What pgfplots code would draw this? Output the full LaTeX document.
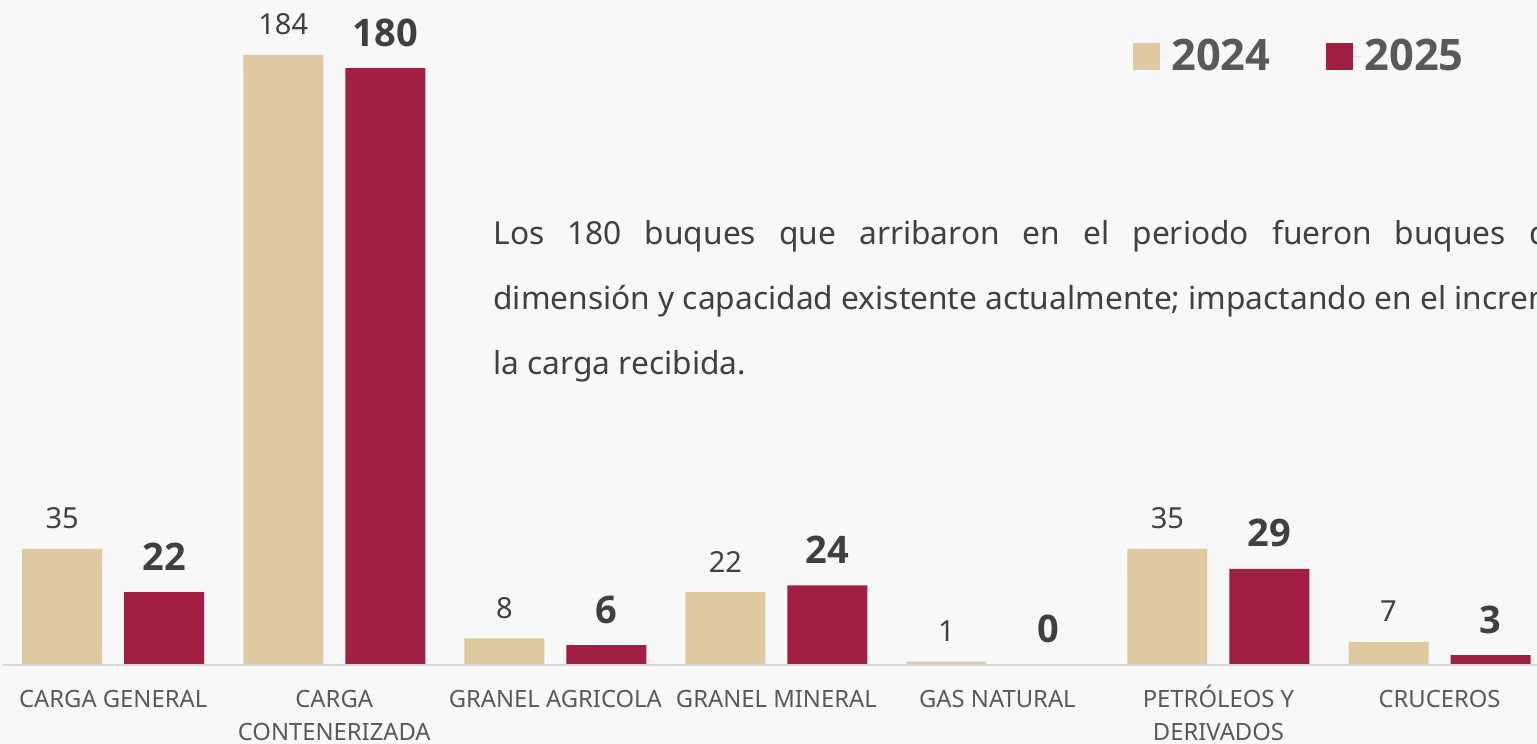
\documentclass[border=0pt]{standalone}
\usepackage{pgfplots}
\pgfplotsset{compat=1.18}
\usepackage{fontspec}
\setmainfont{Noto Sans}
\newfontfamily\boldfnt{Open Sans}
\definecolor{c24}{HTML}{DFC9A0}
\definecolor{c25}{HTML}{A01F42}
\definecolor{lbl}{HTML}{595959}
\definecolor{val}{HTML}{404040}
\definecolor{bg}{HTML}{F8F8F8}
\definecolor{axln}{HTML}{D9D9D9}
\newcommand{\ts}{\rule{0pt}{11.5pt}}

\begin{document}
\begin{tikzpicture}[x=0.5pt,y=0.5pt]
\clip (0,0) rectangle (1537,744);
\fill[bg] (0,0) rectangle (1537,744);
\begin{axis}[
    at={(1.5pt,39.5pt)}, anchor=south west,
    scale only axis, width=767pt, height=331.6pt,
    xmin=-0.4985, xmax=6.441, ymin=0, ymax=200,
    ybar=11pt, bar width=40pt,
    axis on top,
    axis x line*=bottom, axis y line=none,
    x axis line style={draw=axln, line width=1pt, -},
    xtick={0,...,6}, major tick length=0pt, ytick=\empty,
    xticklabels={\ts CARGA GENERAL, {\ts CARGA\\CONTENERIZADA}, \ts GRANEL AGRICOLA,
        \ts GRANEL MINERAL, \ts GAS NATURAL, {\ts PETRÓLEOS Y\\DERIVADOS}, \ts CRUCEROS},
    xticklabel style={font=\fontsize{11.9}{16.5}\selectfont, text=lbl,
        align=center, anchor=north, inner sep=0pt, yshift=-9.75pt},
    /pgf/number format/assume math mode=true,
    nodes near coords,
    legend columns=2,
    legend style={at={(axis description cs:0.7366,0.918)}, anchor=west,
        draw=none, fill=none, inner sep=0pt,
        font=\boldfnt\bfseries\fontsize{21.7}{21.7}\selectfont, text=lbl,
        /tikz/every even column/.append style={column sep=26pt}},
    legend image code/.code={\fill[#1] (0pt,-6.75pt) rectangle (13.5pt,6.75pt);
        \path (13.5pt,0pt) -- (17pt,0pt);},
]
\addplot[fill=c24, draw=none,
    nodes near coords style={font=\fontsize{14.5}{14.5}\selectfont, text=val,
        anchor=base, yshift=10pt}]
    coordinates {(0,35) (1,184) (2,8) (3,22) (4,1) (5,35) (6,7)};
\addlegendentry{2024}
\addplot[fill=c25, draw=none,
    nodes near coords style={font=\boldfnt\bfseries\fontsize{19}{19}\selectfont, text=val,
        anchor=base, yshift=11pt}]
    coordinates {(0,22) (1,180) (2,6) (3,24) (4,0) (5,29) (6,3)};
\addlegendentry{2025}
\end{axis}
\begin{scope}[font=\fontsize{15.85}{15.85}\selectfont, text=val]
\node[anchor=base west, inner sep=0pt] at (493,499)
    {\makebox[596pt][s]{Los 180 buques que arribaron en el periodo fueron buques de mayor}};
\node[anchor=base west, inner sep=0pt] at (493,434)
    {dimensión y capacidad existente actualmente; impactando en el incremento de};
\node[anchor=base west, inner sep=0pt] at (493,369) {la carga recibida.};
\end{scope}
\end{tikzpicture}
\end{document}
